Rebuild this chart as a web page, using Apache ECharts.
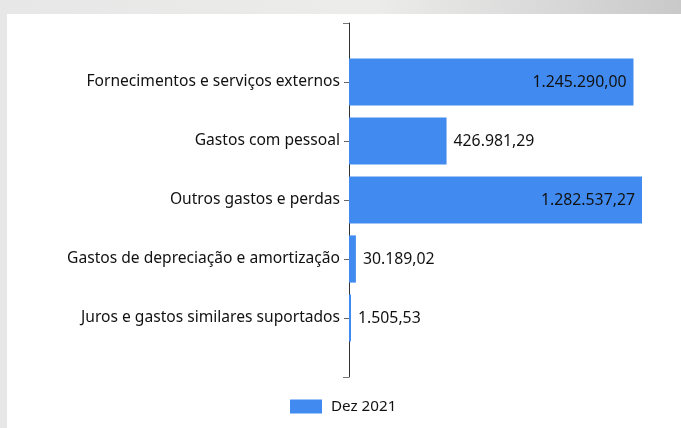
<!DOCTYPE html>
<html>
<head>
<meta charset="utf-8">
<script src="https://cdn.jsdelivr.net/npm/echarts@6/dist/echarts.min.js"></script>
<style>
  html, body { margin: 0; padding: 0; }
  body {
    width: 681px; height: 428px; overflow: hidden; position: relative;
    background: linear-gradient(90deg, #e6e7e6 0%, #ececeb 55%, #d9d9d9 80%, #c9c9c9 100%);
  }
  #card { position: absolute; left: 7px; top: 14px; width: 674px; height: 414px; background: #fff; }
  #chart { position: absolute; left: 0; top: 0; width: 681px; height: 428px; }
</style>
</head>
<body>
<div id="card"></div>
<div id="chart"></div>
<script>
// Data
const categories = [
  "Fornecimentos e serviços externos",
  "Gastos com pessoal",
  "Outros gastos e perdas",
  "Gastos de depreciação e amortização",
  "Juros e gastos similares suportados"
]
const values = [1245290.00, 426981.29, 1282537.27, 30189.02, 1505.53]
const seriesName = "Dez 2021"

const fmt = (v) =>
  v.toLocaleString("pt-BR", { minimumFractionDigits: 2, maximumFractionDigits: 2 })

const font = "'Noto Sans', 'Open Sans', sans-serif"
const maxVal = Math.max(...values)

const chart = echarts.init(document.getElementById("chart"), null, { renderer: "canvas" })

const option = {
  backgroundColor: "transparent",
  textStyle: { fontFamily: font },
  legend: {
    data: [seriesName],
    bottom: 9,
    left: 285,
    itemWidth: 32,
    itemHeight: 14,
    itemGap: 10,
    icon: "rect",
    textStyle: { fontSize: 15.2, color: "#111", fontFamily: font, padding: [0, 0, 0, 4] }
  },
  grid: [
    { left: 349, right: 39, top: 52.5, bottom: 80.5 },
    { left: 349, right: 39, top: 23, bottom: 51 }
  ],
  xAxis: [
    { gridIndex: 0, type: "value", min: 0, max: maxVal, show: false },
    { gridIndex: 1, type: "value", min: 0, max: 1, show: false }
  ],
  yAxis: [
    {
      gridIndex: 0,
      type: "category",
      inverse: true,
      data: categories,
      axisLine: { show: false },
      axisTick: { show: true, alignWithLabel: true, length: 5, lineStyle: { color: "#666" } },
      axisLabel: { color: "#111", fontSize: 15.6, margin: 9, fontFamily: font },
      splitLine: { show: false }
    },
    {
      gridIndex: 1,
      type: "value",
      min: 0,
      max: 1,
      interval: 1,
      axisLine: { show: true, lineStyle: { color: "#333", width: 1 } },
      axisTick: { show: true, length: 6, lineStyle: { color: "#777" } },
      axisLabel: { show: false },
      splitLine: { show: false }
    }
  ],
  series: [
    {
      name: seriesName,
      type: "bar",
      xAxisIndex: 0,
      yAxisIndex: 0,
      barCategoryGap: "20%",
      barMinHeight: 2,
      z: 5,
      itemStyle: { color: "#418bf0" },
      data: values.map((v) => ({
        value: v,
        label: {
          show: true,
          position: v > maxVal * 0.5 ? "insideRight" : "right",
          distance: 7
        }
      })),
      label: {
        color: "#111",
        fontSize: 15.8,
        fontFamily: font,
        formatter: (p) => fmt(p.value)
      }
    }
  ]
}

chart.setOption(option)
</script>
</body>
</html>
